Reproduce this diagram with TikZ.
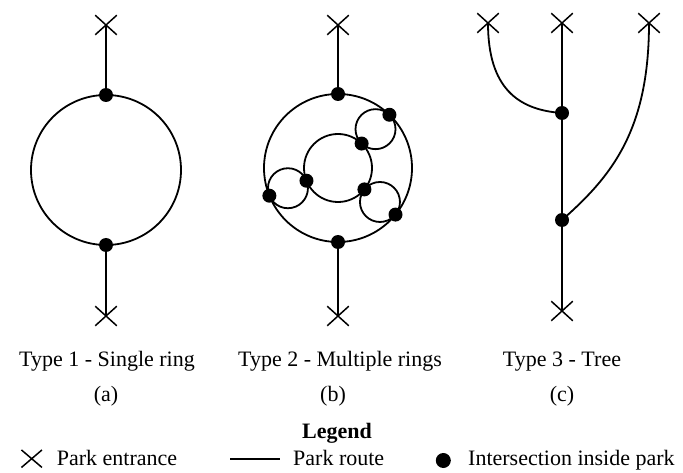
\documentclass[tikz,border=0pt]{standalone}
\usepackage{fontspec}
\setmainfont{Liberation Serif}
\usetikzlibrary{shapes.misc,positioning}

\begin{document}
\begin{tikzpicture}[
            x=1pt,
            y=-1pt,
            route/.style={line width=1.8pt, black},
            entrance/.style={draw, cross out, line width=1.5pt, minimum width=20pt, minimum height=18pt, inner sep=0pt},
            junction/.style={circle, fill=black, minimum size=14pt, inner sep=0pt},
            caption/.style={font=\fontsize{22}{26}\selectfont, inner sep=0pt, anchor=base},
        ]
        \useasboundingbox (0,0) rectangle (683,473);
        % LEFT: single ring
        \coordinate (oa) at (106,170);
        \node[entrance] (a-top) at (106,25) {};
        \node[entrance] (a-bot) at (106,316) {};
        \node[junction] (a1) at (106,95) {};
        \node[junction] (a2) at (106,245) {};
        \draw[route] (oa) circle[radius=75];
        \draw[route] (a-top.center) -- (a1.center);
        \draw[route] (a2.center) -- (a-bot.center);
        \node[caption] (a-name) at (107,366.7) {Type 1 - Single ring};
        \node[caption] (a-tag) at (106,401.7) {(a)};
        % MIDDLE: outer ring, inner ring and three small rings
        \coordinate (ob) at (338,168);
        \node[entrance] (b-top) at (338,25) {};
        \node[entrance] (b-bot) at (338,316) {};
        \node[junction] (b1) at (338,94) {};
        \node[junction] (b2) at (338,242) {};
        \draw[route] (ob) circle[radius=74];
        \draw[route] (ob) circle[radius=34];
        \foreach \a/\n in {-46/1,158/2,39/3} {
            \draw[route] ([shift={(\a:54)}]ob) circle[radius=20];
            \node[junction] (b-in\n) at ([shift={(\a:34)}]ob) {};
            \node[junction] (b-out\n) at ([shift={(\a:74)}]ob) {};
        }
        \draw[route] (b-top.center) -- (b1.center);
        \draw[route] (b2.center) -- (b-bot.center);
        \node[caption] (b-name) at (340,366.7) {Type 2 - Multiple rings};
        \node[caption] (b-tag) at (333,401.7) {(b)};
        % RIGHT: tree
        \node[entrance] (c-left) at (488,23) {};
        \node[entrance] (c-mid) at (562,23) {};
        \node[entrance] (c-right) at (649,23) {};
        \node[entrance] (c-bot) at (562,311) {};
        \node[junction] (c1) at (562,113) {};
        \node[junction] (c2) at (562,220) {};
        \draw[route] (c-mid.center) -- (c1.center) -- (c2.center) -- (c-bot.center);
        \draw[route] (c-left.center) .. controls (488,88) and (518,110) .. (c1.center);
        \draw[route] (c-right.center) .. controls (649,130) and (612,176) .. (c2.center);
        \node[caption] (c-name) at (562,366.7) {Type 3 - Tree};
        \node[caption] (c-tag) at (562,401.7) {(c)};
        % legend
        \node[caption, font=\fontsize{22}{26}\selectfont\bfseries] (legend) at (337,438.3) {Legend};
        \node[entrance, minimum height=16pt, minimum width=19pt] (key-entrance) at (31.7,458.7) {};
        \node[caption, anchor=base west] (key-entrance-text) at (56.7,465) {Park entrance};
        \coordinate (key-route-a) at (230,459.3);
        \coordinate (key-route-b) at (280,459.3);
        \draw[route] (key-route-a) -- (key-route-b);
        \node[caption, anchor=base west] (key-route-text) at (293,465) {Park route};
        \node[junction, minimum size=15pt] (key-junction) at (443.3,460.5) {};
        \node[caption, anchor=base west] (key-junction-text) at (468,465) {Intersection inside park};
\end{tikzpicture}
\end{document}
